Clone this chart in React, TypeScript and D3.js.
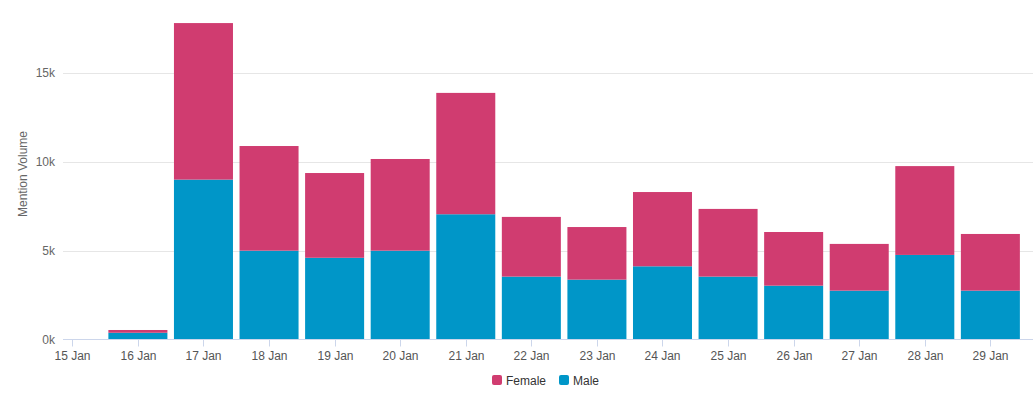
import React, {useEffect, useRef} from 'react'
import * as d3 from 'd3'

// days of January shown on the axis
const days = [15, 16, 17, 18, 19, 20, 21, 22, 23, 24, 25, 26, 27, 28, 29]
const male = [0, 380, 9000, 5000, 4600, 5000, 7050, 3540, 3370, 4120, 3540, 3030, 2750, 4760, 2750]
const female = [0, 155, 8810, 5890, 4770, 5160, 6830, 3360, 2960, 4180, 3810, 3020, 2630, 5000, 3190]
const yTicks = [0, 5000, 10000, 15000]
const seriesNames = ['Female', 'Male']
const colors = {Female: '#d03c70', Male: '#0096c8'}

const W = 1036, H = 397
const font = '"Liberation Sans", Arial, Helvetica, sans-serif'

const App = () => {
  const ref = useRef<SVGSVGElement>(null)

  useEffect(() => {
    const svg = d3.select(ref.current)
    svg.selectAll('*').remove()

    const dayMs = 86400000
    const dates = days.map(d => new Date(Date.UTC(2017, 0, d)))
    const x = d3.scaleUtc()
      .domain([new Date(+dates[0] - 0.142 * dayMs), new Date(+dates[dates.length - 1] + 0.65 * dayMs)])
      .range([63, 1033])
    const y = d3.scaleLinear().domain([0, 15000]).range([339.5, 73])

    const rows = days.map((d, i) => ({date: dates[i], Male: male[i], Female: female[i]}))
    const stack = d3.stack<any>().keys(['Male', 'Female'])(rows)

    // gridlines
    svg.append('g')
      .selectAll('line')
      .data(yTicks.filter(t => t > 0))
      .join('line')
      .attr('x1', 63).attr('x2', 1033)
      .attr('y1', d => Math.round(y(d)) + 0.5).attr('y2', d => Math.round(y(d)) + 0.5)
      .attr('stroke', '#e6e6e6')

    // y labels
    svg.append('g')
      .selectAll('text')
      .data(yTicks)
      .join('text')
      .attr('x', 55).attr('y', d => y(d) + 4)
      .attr('text-anchor', 'end')
      .attr('font-family', font).attr('font-size', 12).attr('fill', '#666')
      .text(d => d3.format('d')(d / 1000) + 'k')

    svg.append('text')
      .attr('transform', 'translate(26.5,174) rotate(-90)')
      .attr('text-anchor', 'middle')
      .attr('font-family', font).attr('font-size', 12).attr('fill', '#666')
      .text('Mention Volume')

    const bw = (x(new Date(+dates[1])) - x(dates[0])) * 0.9

    svg.append('g')
      .selectAll('g')
      .data(stack)
      .join('g')
      .attr('fill', (s: any) => colors[s.key as 'Male' | 'Female'])
      .selectAll('rect')
      .data((s: any) => s)
      .join('rect')
      .attr('x', (d: any) => x(d.data.date) - bw / 2)
      .attr('width', bw)
      .attr('y', (d: any) => y(d[1]))
      .attr('height', (d: any) => Math.max(0, y(d[0]) - y(d[1])))

    // x axis
    const xAxis = svg.append('g').attr('transform', 'translate(0,339.5)')
    xAxis.append('line').attr('x1', 63).attr('x2', 1033).attr('stroke', '#ccd6eb')
    const tk = xAxis.selectAll('g.tick').data(dates).join('g')
      .attr('transform', d => `translate(${Math.round(x(d)) + 0.5},0)`)
    tk.append('line').attr('y2', 7).attr('stroke', '#ccd6eb')
    tk.append('text')
      .attr('y', 20)
      .attr('text-anchor', 'middle')
      .attr('font-family', font).attr('font-size', 12).attr('fill', '#555')
      .text(d => d3.utcFormat('%-d %b')(d))

    // legend
    const leg = svg.append('g').attr('transform', 'translate(492,375)')
    const items = [{name: seriesNames[0], x: 0}, {name: seriesNames[1], x: 67}]
    const li = leg.selectAll('g').data(items).join('g').attr('transform', d => `translate(${d.x},0)`)
    li.append('rect').attr('width', 10).attr('height', 10).attr('rx', 2)
      .attr('fill', d => colors[d.name as 'Male' | 'Female'])
    li.append('text').attr('x', 14).attr('y', 10)
      .attr('font-family', font).attr('font-size', 12).attr('fill', '#333')
      .text(d => d.name)
  }, [])

  return <svg ref={ref} width={W} height={H} style={{display: 'block', position: 'absolute', left: 0, top: 0}} />
}

export default App
